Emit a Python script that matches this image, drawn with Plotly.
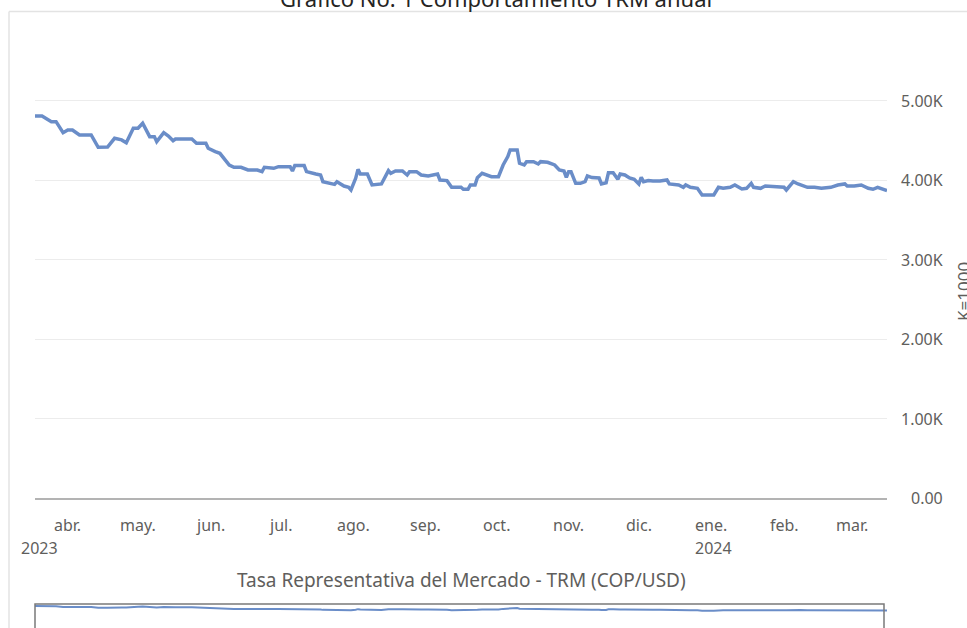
import plotly.graph_objs as go

# TRM diaria (COP/USD)
fechas = [
    "2023-03-18", "2023-03-21", "2023-03-25", "2023-03-27", "2023-03-30", "2023-04-01",
    "2023-04-03", "2023-04-06", "2023-04-11", "2023-04-14", "2023-04-18", "2023-04-21",
    "2023-04-24", "2023-04-26", "2023-04-29", "2023-05-01", "2023-05-03", "2023-05-06",
    "2023-05-08", "2023-05-09", "2023-05-12", "2023-05-14", "2023-05-16", "2023-05-17",
    "2023-05-24", "2023-05-26", "2023-05-30", "2023-05-31", "2023-06-03", "2023-06-05",
    "2023-06-09", "2023-06-11", "2023-06-14", "2023-06-17", "2023-06-21", "2023-06-23",
    "2023-06-24", "2023-06-28", "2023-06-30", "2023-07-05", "2023-07-06", "2023-07-07",
    "2023-07-11", "2023-07-12", "2023-07-16", "2023-07-18", "2023-07-19", "2023-07-22",
    "2023-07-24", "2023-07-25", "2023-07-28", "2023-07-30", "2023-07-31", "2023-08-02",
    "2023-08-03", "2023-08-04", "2023-08-07", "2023-08-09", "2023-08-13", "2023-08-16",
    "2023-08-17", "2023-08-19", "2023-08-22", "2023-08-24", "2023-08-25", "2023-08-28",
    "2023-08-30", "2023-09-02", "2023-09-05", "2023-09-06", "2023-09-07", "2023-09-10",
    "2023-09-12", "2023-09-16", "2023-09-17", "2023-09-19", "2023-09-20", "2023-09-22",
    "2023-09-23", "2023-09-25", "2023-09-29", "2023-10-02", "2023-10-04", "2023-10-06",
    "2023-10-07", "2023-10-10", "2023-10-11", "2023-10-13", "2023-10-14", "2023-10-17",
    "2023-10-19", "2023-10-20", "2023-10-23", "2023-10-26", "2023-10-28", "2023-10-30",
    "2023-10-31", "2023-11-01", "2023-11-02", "2023-11-04", "2023-11-06", "2023-11-08",
    "2023-11-09", "2023-11-11", "2023-11-14", "2023-11-15", "2023-11-17", "2023-11-18",
    "2023-11-20", "2023-11-22", "2023-11-23", "2023-11-25", "2023-11-27", "2023-11-29",
    "2023-12-01", "2023-12-02", "2023-12-03", "2023-12-05", "2023-12-07", "2023-12-10",
    "2023-12-13", "2023-12-14", "2023-12-18", "2023-12-20", "2023-12-21", "2023-12-23",
    "2023-12-26", "2023-12-28", "2024-01-02", "2024-01-04", "2024-01-06", "2024-01-09",
    "2024-01-11", "2024-01-14", "2024-01-16", "2024-01-18", "2024-01-19", "2024-01-22",
    "2024-01-24", "2024-01-27", "2024-02-01", "2024-02-02", "2024-02-04", "2024-02-05",
    "2024-02-07", "2024-02-08", "2024-02-11", "2024-02-14", "2024-02-17", "2024-02-21",
    "2024-02-24", "2024-02-27", "2024-02-28", "2024-03-02", "2024-03-05", "2024-03-08",
    "2024-03-10", "2024-03-12", "2024-03-13", "2024-03-16",
]
trm = [
    4811, 4811, 4740, 4740, 4601, 4635,
    4635, 4572, 4572, 4417, 4420, 4530,
    4510, 4475, 4656, 4656, 4719, 4551,
    4551, 4488, 4601, 4559, 4500, 4521,
    4521, 4467, 4467, 4404, 4362, 4341,
    4194, 4165, 4165, 4131, 4131, 4110,
    4165, 4152, 4173, 4173, 4118, 4186,
    4186, 4110, 4080, 4068, 3984, 3963,
    3950, 3984, 3929, 3913, 3879, 4026,
    4139, 4080, 4080, 3942, 3955, 4123,
    4089, 4118, 4118, 4068, 4110, 4110,
    4068, 4055, 4080, 4080, 4005, 3997,
    3913, 3913, 3888, 3888, 3942, 3942,
    4035, 4089, 4047, 4047, 4194, 4299,
    4383, 4383, 4215, 4194, 4236, 4236,
    4207, 4236, 4228, 4194, 4131, 4118,
    4039, 4110, 4110, 3963, 3963, 3984,
    4055, 4035, 4030, 3955, 3970, 4097,
    4097, 4014, 4080, 4068, 4030, 4014,
    3955, 4039, 3984, 3997, 3993, 3993,
    4005, 3955, 3942, 3913, 3942, 3913,
    3900, 3816, 3816, 3913, 3900, 3913,
    3942, 3892, 3900, 3963, 3913, 3900,
    3929, 3921, 3913, 3879, 3942, 3984,
    3955, 3942, 3913, 3913, 3900, 3913,
    3942, 3955, 3929, 3929, 3942, 3900,
    3888, 3913, 3900, 3871,
]

meses = ["2023-04-01", "2023-05-01", "2023-06-01", "2023-07-01", "2023-08-01", "2023-09-01",
         "2023-10-01", "2023-11-01", "2023-12-01", "2024-01-01", "2024-02-01", "2024-03-01"]
meses_txt = ["abr.", "may.", "jun.", "jul.", "ago.", "sep.",
             "oct.", "nov.", "dic.", "ene.", "feb.", "mar."]
y_ticks = [0, 1000, 2000, 3000, 4000, 5000]
y_ticks_txt = ["0.00", "1.00K", "2.00K", "3.00K", "4.00K", "5.00K"]

W, H = 967, 628
FONT = "Segoe UI, Noto Sans, sans-serif"
GRIS = "#605e5c"
AZUL = "#6a8dc8"


def px(x):
    return x / W


def py(y):
    return 1 - y / H


fig = go.Figure()

fig.add_trace(go.Scatter(
    x=fechas, y=trm, mode="lines",
    line=dict(color=AZUL, width=3.5),
    xaxis="x", yaxis="y", showlegend=False,
    hovertemplate="%{x}<br>%{y:,.2f}<extra></extra>"
))

# mini gráfico del selector de rango (cortado abajo)
fig.add_trace(go.Scatter(
    x=fechas, y=trm, mode="lines",
    line=dict(color=AZUL, width=2),
    xaxis="x2", yaxis="y2", showlegend=False, hoverinfo="skip"
))

rango_x = [fechas[0], fechas[-1]]

annotations = []
for v, t in zip(y_ticks, y_ticks_txt):
    annotations.append(dict(
        x=px(945), xref="paper", y=v, yref="y", text=t, showarrow=False,
        xanchor="right", yanchor="middle", font=dict(size=16, color=GRIS, family=FONT)
    ))
for m, t in zip(meses, meses_txt):
    annotations.append(dict(
        x=m, xref="x", y=py(525), yref="paper", text=t, showarrow=False,
        xanchor="center", yanchor="middle", font=dict(size=16, color=GRIS, family=FONT)
    ))
annotations.append(dict(
    x=fechas[0], xref="x", xshift=4, y=py(548), yref="paper", text="2023", showarrow=False,
    xanchor="center", yanchor="middle", font=dict(size=16, color=GRIS, family=FONT)
))
annotations.append(dict(
    x="2024-01-01", xref="x", xshift=2, y=py(548), yref="paper", text="2024", showarrow=False,
    xanchor="center", yanchor="middle", font=dict(size=16, color=GRIS, family=FONT)
))
annotations.append(dict(
    x=px(461), xref="paper", y=py(580), yref="paper",
    text="Tasa Representativa del Mercado - TRM (COP/USD)", showarrow=False,
    xanchor="center", yanchor="middle", font=dict(size=19, color=GRIS, family=FONT)
))
annotations.append(dict(
    x=px(963), xref="paper", y=py(292), yref="paper", text="K=1000", showarrow=False,
    textangle=-90, xanchor="center", yanchor="middle",
    font=dict(size=17, color=GRIS, family=FONT)
))
annotations.append(dict(
    x=px(496), xref="paper", y=py(15), yref="paper",
    text="Gráfico No. 1 Comportamiento TRM anual", showarrow=False,
    xanchor="center", yanchor="bottom", font=dict(size=22, color="#252423", family=FONT)
))

shapes = [
    # borde de la tarjeta
    dict(type="line", xref="paper", yref="paper", x0=px(9), x1=1.0, y0=py(11.5), y1=py(11.5),
         line=dict(color="#e3e3e3", width=1.5)),
    dict(type="line", xref="paper", yref="paper", x0=px(9), x1=px(9), y0=py(11.5), y1=0,
         line=dict(color="#e3e3e3", width=1.5)),
    # marco del selector de rango
    dict(type="rect", xref="paper", yref="paper", x0=px(35), x1=px(884), y0=-0.01, y1=py(604),
         line=dict(color="#7a7a7a", width=1.5)),
]

fig.update_layout(
    width=W, height=H,
    margin=dict(l=0, r=0, t=0, b=0),
    plot_bgcolor="white", paper_bgcolor="white",
    font=dict(family=FONT, color=GRIS),
    xaxis=dict(
        domain=[px(35), px(887)], range=rango_x, anchor="y",
        showgrid=False, showticklabels=False, ticks="",
        showline=True, linecolor="#b3b3b3", linewidth=1.5, zeroline=False
    ),
    yaxis=dict(
        domain=[py(498), py(40)], range=[0, 5768], anchor="x", side="right",
        tickvals=y_ticks, showticklabels=False, ticks="",
        showgrid=True, gridcolor="#ececec", gridwidth=1, zeroline=False
    ),
    xaxis2=dict(
        domain=[px(35), px(887)], range=rango_x, anchor="y2",
        showgrid=False, showticklabels=False, ticks="", showline=False, zeroline=False
    ),
    yaxis2=dict(
        domain=[0, py(604)], range=[120, 5235], anchor="x2",
        showgrid=False, showticklabels=False, ticks="", showline=False, zeroline=False
    ),
    annotations=annotations,
    shapes=shapes,
    hovermode="x",
)

# la página no debe tener margen alrededor del gráfico
fig.write_html(
    "out.html",
    config={"displayModeBar": False},
    post_script="document.body.style.margin='0';",
)
